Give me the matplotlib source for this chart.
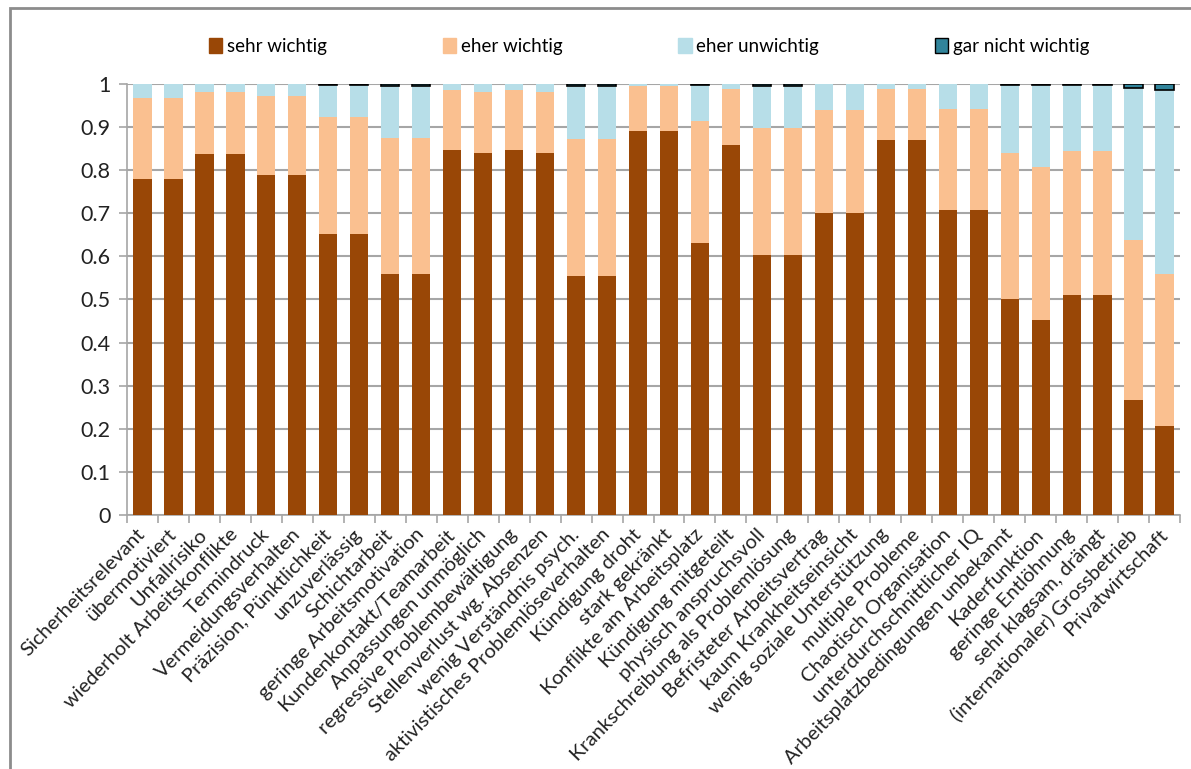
import matplotlib.pyplot as plt
import matplotlib.patches as mpatches
import numpy as np

plt.rcParams['font.family'] = ['Lato', 'DejaVu Sans']

categories = [
    'Sicherheitsrelevant', 'übermotiviert', 'Unfallrisiko', 'wiederholt Arbeitskonflikte',
    'Termindruck', 'Vermeidungsverhalten', 'Präzision, Pünktlichkeit', 'unzuverlässig',
    'Schichtarbeit', 'geringe Arbeitsmotivation', 'Kundenkontakt/Teamarbeit',
    'Anpassungen unmöglich', 'regressive Problembewältigung', 'Stellenverlust wg. Absenzen',
    'wenig Verständnis psych.', 'aktivistisches Problemlöseverhalten', 'Kündigung droht',
    'stark gekränkt', 'Konflikte am Arbeitsplatz', 'Kündigung mitgeteilt',
    'physisch anspruchsvoll', 'Krankschreibung als Problemlösung', 'Befristeter Arbeitsvertrag',
    'kaum Krankheitseinsicht', 'wenig soziale Unterstützung', 'multiple Probleme',
    'Chaotisch Organisation', 'unterdurchschnittlicher IQ', 'Arbeitsplatzbedingungen unbekannt',
    'Kaderfunktion', 'geringe Entlöhnung', 'sehr klagsam, drängt',
    '(internationaler) Grossbetrieb', 'Privatwirtschaft',
]

sehr_wichtig = [0.780, 0.780, 0.837, 0.837, 0.789, 0.789, 0.652, 0.652, 0.560, 0.560,
                0.846, 0.840, 0.846, 0.840, 0.555, 0.555, 0.890, 0.890, 0.631, 0.858,
                0.604, 0.604, 0.700, 0.700, 0.869, 0.869, 0.708, 0.708, 0.501, 0.452,
                0.510, 0.510, 0.267, 0.206]
eher_wichtig = [0.187, 0.187, 0.145, 0.145, 0.182, 0.182, 0.271, 0.271, 0.315, 0.315,
                0.139, 0.142, 0.139, 0.142, 0.317, 0.317, 0.105, 0.105, 0.282, 0.130,
                0.295, 0.295, 0.240, 0.240, 0.119, 0.119, 0.235, 0.235, 0.339, 0.355,
                0.335, 0.335, 0.370, 0.354]
eher_unwichtig = [0.033, 0.033, 0.018, 0.018, 0.029, 0.029, 0.075, 0.075, 0.121, 0.121,
                  0.015, 0.018, 0.015, 0.018, 0.124, 0.124, 0.005, 0.005, 0.085, 0.012,
                  0.097, 0.097, 0.060, 0.060, 0.012, 0.012, 0.057, 0.057, 0.157, 0.190,
                  0.152, 0.152, 0.354, 0.426]
gar_nicht_wichtig = [0, 0, 0, 0, 0, 0, 0.002, 0.002, 0.004, 0.004,
                     0, 0, 0, 0, 0.004, 0.004, 0, 0, 0.002, 0,
                     0.004, 0.004, 0, 0, 0, 0, 0, 0, 0.003, 0.003,
                     0.003, 0.003, 0.009, 0.014]

series = [
    ('sehr wichtig', sehr_wichtig, '#994706'),
    ('eher wichtig', eher_wichtig, '#FAC090'),
    ('eher unwichtig', eher_unwichtig, '#B7DEE8'),
    ('gar nicht wichtig', gar_nicht_wichtig, '#31849B'),
]

fig = plt.figure(figsize=(11.91, 7.69), dpi=100)
ax = fig.add_axes([0.1066, 0.3303, 0.8842, 0.5605])

x = np.arange(len(categories))
bottom = np.zeros(len(categories))
handles = []
for name, vals, col in series:
    vals = np.array(vals)
    if name == 'gar nicht wichtig':
        lw = [1.2 if v > 0 else 0 for v in vals]
        ax.bar(x, vals, 0.59, bottom=bottom, color=col, edgecolor='black',
               linewidth=lw, zorder=3)
    else:
        ax.bar(x, vals, 0.59, bottom=bottom, color=col, zorder=3)
    bottom += vals
    handles.append(mpatches.Patch(facecolor=col,
                                  edgecolor='black' if name == 'gar nicht wichtig' else col,
                                  label=name))

ax.set_xlim(-0.5, len(categories) - 0.5)
ax.set_ylim(0, 1)
ax.set_yticks(np.arange(0, 1.01, 0.1))
ax.set_yticklabels(['0', '0.1', '0.2', '0.3', '0.4', '0.5', '0.6', '0.7', '0.8', '0.9', '1'])
ax.yaxis.grid(True, color='#A6A6A6', linewidth=1.5, zorder=0)
ax.set_axisbelow(True)

ax.set_xticks(x)
ax.set_xticklabels(categories, rotation=46, ha='right', va='center',
                   rotation_mode='anchor', fontsize=14.5, color='#222222')
ax.set_xticks(np.arange(-0.5, len(categories)), minor=True)
ax.tick_params(axis='x', which='major', length=0, pad=12)
ax.tick_params(axis='x', which='minor', length=6, color='#A6A6A6', width=1.2)
ax.tick_params(axis='y', length=6, color='#A6A6A6', width=1.2, labelsize=15.5,
               labelcolor='#222222', pad=6)

for s in ['top', 'right']:
    ax.spines[s].set_visible(False)
for s in ['left', 'bottom']:
    ax.spines[s].set_color('#A6A6A6')
    ax.spines[s].set_linewidth(1.2)

fig.legend(handles=handles, loc='center', bbox_to_anchor=(0.545, 0.94), ncol=4,
           frameon=False, fontsize=13.5, handlelength=0.7, handleheight=0.9,
           handletextpad=0.25, columnspacing=6.2)

border = mpatches.Rectangle((10 / 1191, -0.1), 1.2, 1.1 - 8 / 769, transform=fig.transFigure,
                            fill=False, edgecolor='#8C8C8C', linewidth=2)
fig.patches.append(border)

fig.savefig('out.png', dpi=100)
